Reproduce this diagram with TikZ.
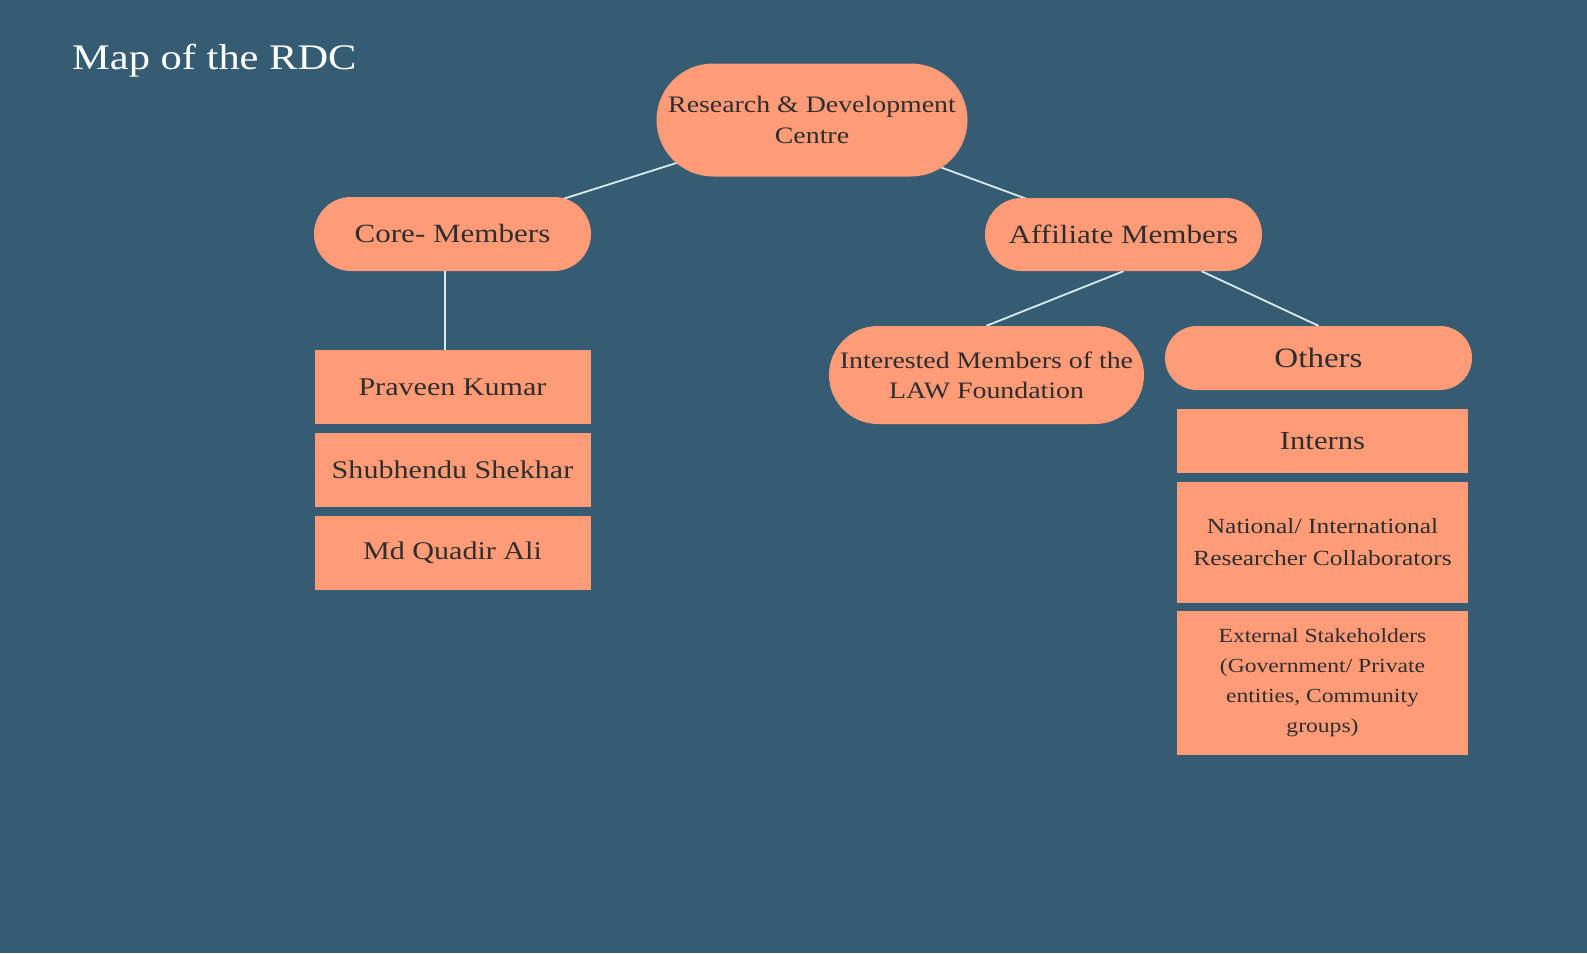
\documentclass[tikz,border=0pt]{standalone}
\usepackage{fontspec}
\setmainfont[FakeStretch=1.18]{Liberation Serif}
\usetikzlibrary{backgrounds}
\definecolor{bg}{HTML}{355C73}
\definecolor{salmon}{HTML}{FF9B77}
\definecolor{ink}{HTML}{2E2E2E}
\definecolor{wire}{HTML}{D8ECF4}
\newcommand{\fsz}[2]{\fontsize{#1}{#2}\selectfont}
\tikzset{
  pill/.style={fill=salmon, text=ink, inner sep=0pt, align=center},
  box/.style={fill=salmon, text=ink, inner sep=0pt, align=center},
  link/.style={draw=wire, line width=1.8pt},
}
\begin{document}
\begin{tikzpicture}[x=1pt,y=-1pt]
\begin{pgfonlayer}{background}
\fill[bg] (0,0) rectangle (1587,953);
\end{pgfonlayer}
\useasboundingbox (0,0) rectangle (1587,953);

\node[anchor=base west, text=white, font=\fsz{36}{40}, inner sep=0pt] (title) at (72,69) {Map of the RDC};

\node[pill, minimum width=311pt, minimum height=113pt, rounded corners=56.5pt, font=\fsz{23.6}{31}] (root) at (812,120) {Research \& Development\\Centre};

\node[pill, minimum width=277pt, minimum height=74pt, rounded corners=37pt, font=\fsz{26.3}{30}] (core) at (452.5,234) {Core- Members};
\node[pill, minimum width=277pt, minimum height=73pt, rounded corners=36.5pt, font=\fsz{26.3}{30}] (aff) at (1123.5,234.5) {Affiliate Members};

\node[pill, minimum width=315pt, minimum height=98pt, rounded corners=49pt, font=\fsz{23.6}{30}] (int) at (986.5,375) {Interested Members of the\\LAW Foundation};
\node[pill, minimum width=307pt, minimum height=64pt, rounded corners=32pt, font=\fsz{28}{32}] (oth) at (1318.5,358) {Others};

\node[box, minimum width=276pt, minimum height=74pt, font=\fsz{25.5}{30}] (p1) at (452.5,387) {Praveen Kumar};
\node[box, minimum width=276pt, minimum height=74pt, font=\fsz{25.5}{30}] (p2) at (452.5,470) {Shubhendu Shekhar};
\node[box, minimum width=276pt, minimum height=74pt, font=\fsz{25.5}{30}] (p3) at (452.5,553) {Md Quadir Ali};

\node[box, minimum width=291pt, minimum height=64pt, font=\fsz{26}{30}] (intern) at (1322.5,441) {Interns};
\node[box, minimum width=291pt, minimum height=121pt, font=\fsz{21.6}{32}] (nat) at (1322.5,542.5) {National/ International\\Researcher Collaborators};
\node[box, minimum width=291pt, minimum height=144pt, font=\fsz{20}{30}] (ext) at (1322.5,683) {External Stakeholders\\(Government/ Private\\entities, Community\\groups)};

\begin{pgfonlayer}{background}
\draw[link] (root.center) -- (core.center);
\draw[link] (root.center) -- (aff.center);
\draw[link] ([xshift=-7.5pt]core.south) -- ([xshift=-7.5pt]p1.north);
\draw[link] (aff.south) -- (int.north);
\draw[link] ([xshift=78pt]aff.south) -- (oth.north);
\end{pgfonlayer}
\end{tikzpicture}
\end{document}
